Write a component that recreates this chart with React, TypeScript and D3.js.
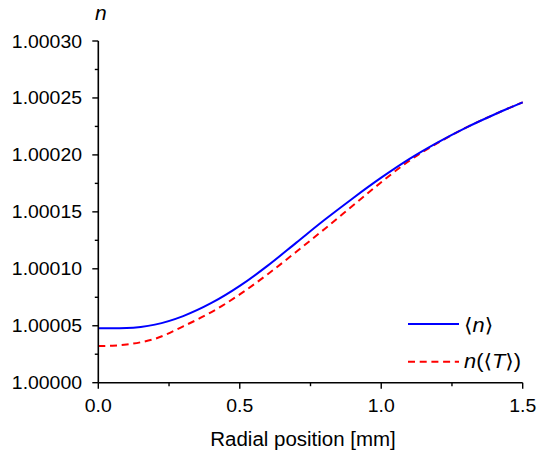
import React from "react";
import * as d3 from "d3";

const radius = [0, 0.05, 0.1, 0.15, 0.2, 0.3, 0.4, 0.5, 0.6, 0.7, 0.8, 0.9, 1.0, 1.1, 1.2, 1.3, 1.4, 1.5];
// values of (n - 1) in units of 1e-5
const nMean = [4.78, 4.78, 4.8, 4.9, 5.1, 5.85, 7.0, 8.5, 10.3, 12.3, 14.3, 16.2, 18.0, 19.65, 21.1, 22.4, 23.55, 24.62];
const nOfT = [3.22, 3.25, 3.35, 3.55, 3.85, 4.95, 6.2, 7.75, 9.55, 11.5, 13.5, 15.55, 17.6, 19.5, 21.05, 22.4, 23.55, 24.62];

const xTicks = [0, 0.5, 1.0, 1.5];
const xMinor = [0.25, 0.75, 1.25];
const yTicks = [0, 5, 10, 15, 20, 25, 30];
const yTickLabels = ["1.00000", "1.00005", "1.00010", "1.00015", "1.00020", "1.00025", "1.00030"];
const yMinor = [2.5, 7.5, 12.5, 17.5, 22.5, 27.5];
const xTickLabels = ["0.0", "0.5", "1.0", "1.5"];

const W = 544;
const H = 455;
const SX = 1.05;
const FONT = "'Liberation Sans', Arial, sans-serif";

export default function App() {
  const x = d3.scaleLinear().domain([0, 1.5]).range([98.3, 522.7]);
  const y = d3.scaleLinear().domain([0, 30]).range([382.7, 41]);
  const line = d3
    .line<number>()
    .x((_, i) => x(radius[i]))
    .y((d) => y(d))
    .curve(d3.curveMonotoneX);

  const T = (props: { x: number; y: number; anchor?: string; size?: number; italic?: boolean; children: React.ReactNode }) => (
    <text
      transform={`translate(${props.x},${props.y}) scale(${SX},1)`}
      textAnchor={props.anchor || "start"}
      fontSize={props.size || 18.5}
      fontFamily={FONT}
      fontStyle={props.italic ? "italic" : "normal"}
      fill="#000"
    >
      {props.children}
    </text>
  );

  const BR = "'DejaVu Sans', sans-serif";

  return (
    <svg width={W} height={H} style={{ position: "absolute", left: 0, top: 0, background: "#fff" }}>
      {/* curves */}
      <path d={line(nOfT) || ""} fill="none" stroke="#ff0000" strokeWidth={2} strokeDasharray="7,4.7" />
      <path d={line(nMean) || ""} fill="none" stroke="#0000ff" strokeWidth={2} />

      {/* axes */}
      <line x1={x(0)} x2={x(1.5)} y1={y(0)} y2={y(0)} stroke="#000" strokeWidth={1.6} />
      <line x1={x(0)} x2={x(0)} y1={y(0)} y2={y(30)} stroke="#000" strokeWidth={1.6} />
      {xTicks.map((t, i) => (
        <g key={"xt" + i}>
          <line x1={x(t)} x2={x(t)} y1={y(0)} y2={y(0) + 6} stroke="#000" strokeWidth={1.4} />
          <T x={x(t)} y={412} anchor="middle">{xTickLabels[i]}</T>
        </g>
      ))}
      {xMinor.map((t, i) => (
        <line key={"xm" + i} x1={x(t)} x2={x(t)} y1={y(0)} y2={y(0) + 3.5} stroke="#000" strokeWidth={1.4} />
      ))}
      {yTicks.map((t, i) => (
        <g key={"yt" + i}>
          <line x1={x(0) - 6} x2={x(0)} y1={y(t)} y2={y(t)} stroke="#000" strokeWidth={1.4} />
          <T x={82} y={y(t) + 6.5} anchor="end">{yTickLabels[i]}</T>
        </g>
      ))}
      {yMinor.map((t, i) => (
        <line key={"ym" + i} x1={x(0) - 3.5} x2={x(0)} y1={y(t)} y2={y(t)} stroke="#000" strokeWidth={1.4} />
      ))}

      {/* axis titles */}
      <T x={303} y={446} anchor="middle" size={19.5}>Radial position [mm]</T>
      <T x={95} y={20} italic size={20}>n</T>

      {/* legend */}
      <line x1={408} x2={459} y1={324} y2={324} stroke="#0000ff" strokeWidth={2} />
      <line x1={408} x2={459} y1={361.7} y2={361.7} stroke="#ff0000" strokeWidth={2} strokeDasharray="7,4.7" />
      <text transform={`translate(464,332) scale(1.12,1)`} fontSize={19.5} fontFamily={FONT}>
        <tspan fontFamily={BR}>⟨</tspan>
        <tspan fontStyle="italic">n</tspan>
        <tspan fontFamily={BR}>⟩</tspan>
      </text>
      <text transform={`translate(464,368) scale(1.12,1)`} fontSize={19.5} fontFamily={FONT}>
        <tspan fontStyle="italic">n</tspan>
        <tspan>(</tspan>
        <tspan fontFamily={BR}>⟨</tspan>
        <tspan fontStyle="italic">T</tspan>
        <tspan fontFamily={BR}>⟩</tspan>
        <tspan>)</tspan>
      </text>
    </svg>
  );
}
